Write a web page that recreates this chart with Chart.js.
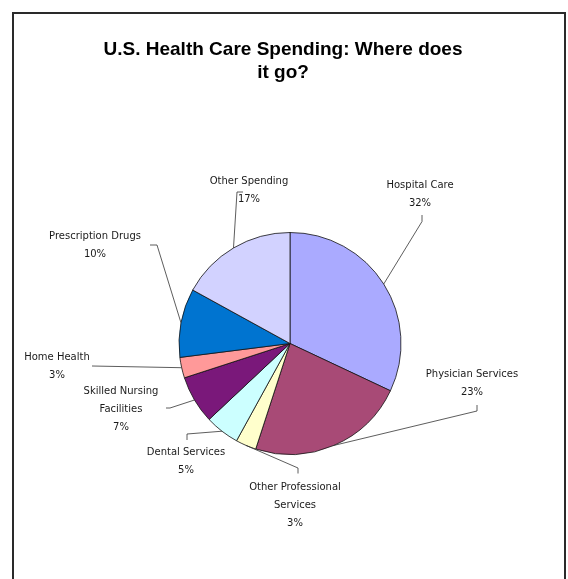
<!DOCTYPE html>
<html>
<head>
<meta charset="utf-8">
<script src="https://cdn.jsdelivr.net/npm/chart.js@4.4.0/dist/chart.umd.min.js"></script>
<style>
    html, body { margin: 0; padding: 0; background: #fff; }
    #wrap { width: 568px; height: 579px; }
</style>
</head>
<body>
<div id="wrap"><canvas id="healthChart" width="568" height="579"></canvas></div>
<script>
// data
const titleLines = ['U.S. Health Care Spending: Where does', 'it go?'];
const categories = [
    'Hospital Care',
    'Physician Services',
    ['Other Professional', 'Services'],
    'Dental Services',
    ['Skilled Nursing', 'Facilities'],
    'Home Health',
    'Prescription Drugs',
    'Other Spending'
];
const shares = [32, 23, 3, 5, 7, 3, 10, 17];
const sliceColors = ['#AAAAFF', '#A84A76', '#FFFFCC', '#CCFFFF', '#7A187A', '#FF9999', '#0074D0', '#D2D2FF'];

// where each label sits, relative to the pie centre (text centre, then leader elbow)
const labelSpots = [
    { text: [130, -158],  tick: [[132, -122], [132, -128.5]] },
    { text: [182, 31],    tick: [[187, 67.5], [187, 61.5]] },
    { text: [5, 144],     tick: [[8, 124.5], [8, 130]] },
    { text: [-104, 109],  tick: [[-103, 90.5], [-103, 96.5]] },
    { text: [-169, 48],   tick: [[-120, 64.5], [-124, 64.5]] },
    { text: [-233, 14],   tick: [[-198, 22.5], [-198, 22.5]] },
    { text: [-195, -107.5], tick: [[-133, -98.5], [-140, -98.5]] },
    { text: [-41, -162],  tick: [[-53, -151.5], [-47, -151.5]] }
];

// white page, frame round the whole chart (runs off the bottom edge) and the title
const framePlugin = {
    id: 'frame',
    beforeDraw(chart) {
        const ctx = chart.ctx;
        ctx.save();
        ctx.fillStyle = '#fff';
        ctx.fillRect(0, 0, chart.width, chart.height);
        ctx.strokeStyle = '#2a2a2a';
        ctx.lineWidth = 2;
        ctx.strokeRect(13, 13, 552, 600);

        ctx.fillStyle = '#000';
        ctx.font = 'bold 19px "Liberation Sans", Arial';
        ctx.textAlign = 'center';
        ctx.textBaseline = 'middle';
        titleLines.forEach(function (line, k) {
            ctx.fillText(line, 283, 50 + k * 23);
        });
        ctx.restore();
    }
};

// outside labels with leader lines, like the spreadsheet ones
const leaderLabels = {
    id: 'leaderLabels',
    afterDatasetsDraw(chart) {
        const ctx = chart.ctx;
        const arcs = chart.getDatasetMeta(0).data;
        ctx.save();
        ctx.font = '10px "DejaVu Sans"';
        ctx.fillStyle = '#1a1a1a';
        ctx.strokeStyle = '#333';
        ctx.lineWidth = 0.8;
        ctx.textAlign = 'center';
        ctx.textBaseline = 'middle';
        arcs.forEach(function (arc, i) {
            const p = arc.getProps(['x', 'y', 'startAngle', 'endAngle', 'outerRadius'], true);
            const mid = (p.startAngle + p.endAngle) / 2;
            const ax = p.x + Math.cos(mid) * p.outerRadius;
            const ay = p.y + Math.sin(mid) * p.outerRadius;
            const spot = labelSpots[i];

            ctx.beginPath();
            ctx.moveTo(ax, ay);
            ctx.lineTo(p.x + spot.tick[0][0], p.y + spot.tick[0][1]);
            ctx.lineTo(p.x + spot.tick[1][0], p.y + spot.tick[1][1]);
            ctx.stroke();

            let lines = categories[i];
            if (!Array.isArray(lines)) lines = [lines];
            lines = lines.concat([shares[i] + '%']);
            lines.forEach(function (line, k) {
                ctx.fillText(line, p.x + spot.text[0], p.y + spot.text[1] + k * 18);
            });
        });
        ctx.restore();
    }
};

new Chart(document.getElementById('healthChart'), {
    type: 'pie',
    data: {
        labels: categories,
        datasets: [{
            data: shares,
            backgroundColor: sliceColors,
            borderColor: '#111',
            borderWidth: 0.8,
            radius: 111
        }]
    },
    options: {
        responsive: false,
        devicePixelRatio: 1,
        animation: false,
        layout: {
            padding: { left: 12, right: 0, top: 110, bottom: 2 }
        },
        plugins: {
            legend: { display: false },
            tooltip: { enabled: false },
            title: { display: false }
        }
    },
    plugins: [framePlugin, leaderLabels]
});
</script>
</body>
</html>
